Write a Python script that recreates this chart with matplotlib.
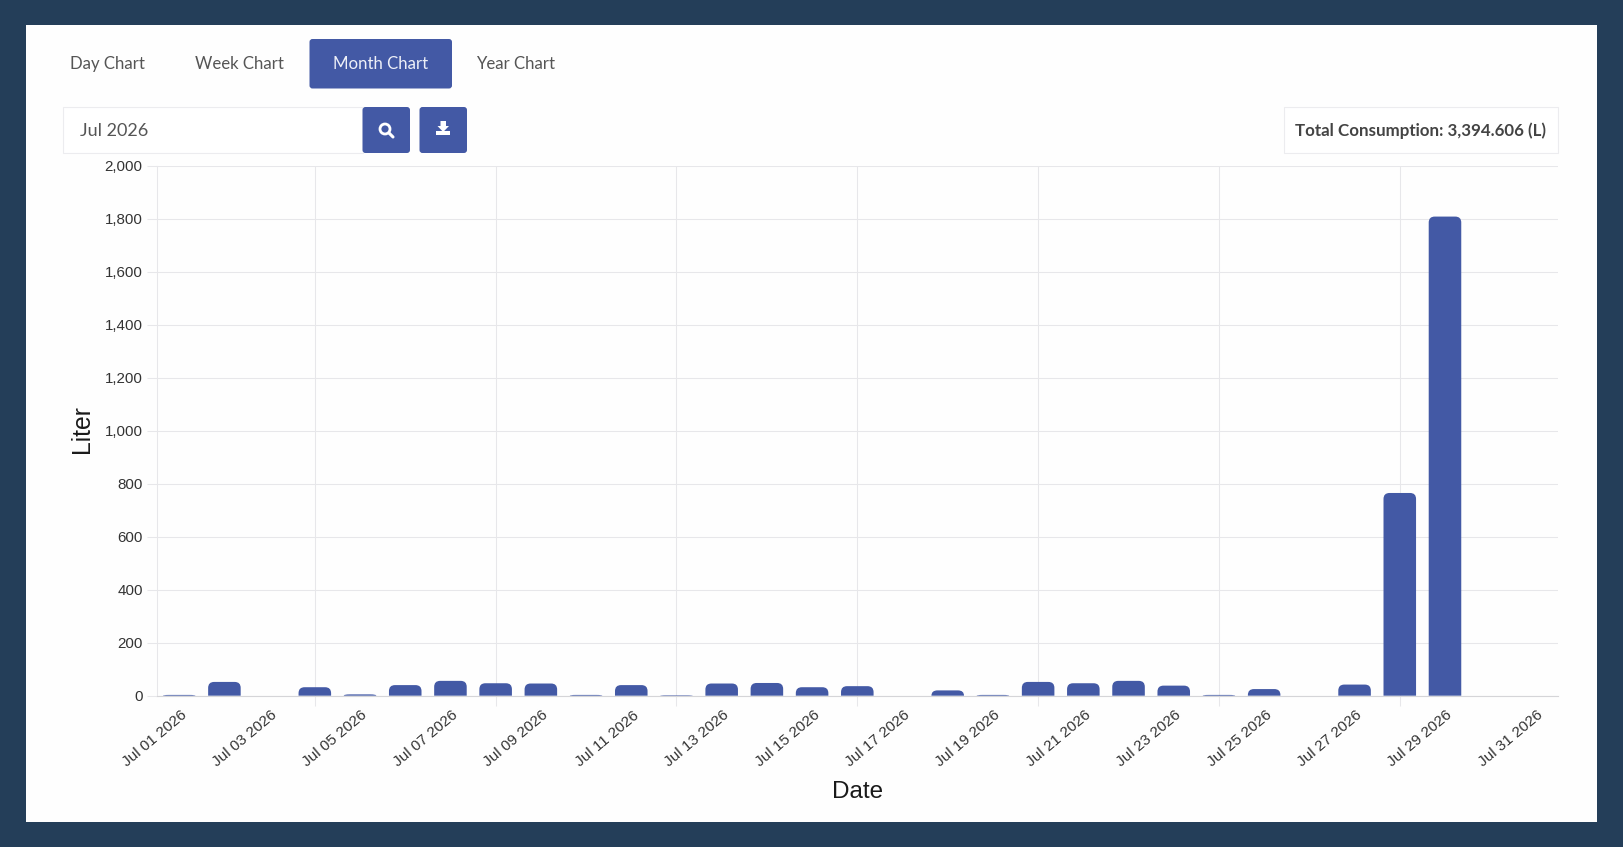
#!/usr/bin/env python3
import matplotlib
matplotlib.use("Agg")
import matplotlib.pyplot as plt
from matplotlib.patches import Rectangle, FancyBboxPatch, Circle, PathPatch, Polygon
from matplotlib.path import Path
from matplotlib.transforms import ScaledTranslation

days = [f"Jul {d:02d} 2026" for d in range(1, 32)]
liters = [3, 52, 0, 32, 5, 40, 56, 47, 46, 3, 40, 2, 46, 48, 32, 36, 0, 20, 3, 52,
          47, 56, 38, 3, 25, 0, 42, 765, 1808, 0, 0]
y_ticks = list(range(0, 2001, 200))
tabs = ["Day Chart", "Week Chart", "Month Chart", "Year Chart"]
tab_centers = [107.5, 239.5, 380.5, 516]

W, H = 1624, 847
BG = "#243e59"
BLUE = "#4359a5"
GRID = "#e7e7ea"
UI_FONT = ["Lato", "DejaVu Sans"]
CHART_FONT = ["Liberation Sans", "DejaVu Sans"]


def rounded_bar(ax, x, height, width, radius_px, px_x, px_y):
    # only the top corners are rounded, radius is clamped on the short bars
    rx = radius_px / px_x
    ry = min(radius_px / px_y, height)
    l, r = x - width / 2, x + width / 2
    verts = [(l, 0), (l, height - ry), (l, height), (l + rx, height),
             (r - rx, height), (r, height), (r, height - ry), (r, 0), (l, 0)]
    codes = [Path.MOVETO, Path.LINETO, Path.CURVE3, Path.CURVE3,
             Path.LINETO, Path.CURVE3, Path.CURVE3, Path.LINETO, Path.CLOSEPOLY]
    ax.add_patch(PathPatch(Path(verts, codes), facecolor=BLUE, edgecolor="none", zorder=3))


def button(ui, x0, y0, x1, y1, color=BLUE, edge="none", r=3):
    ui.add_patch(FancyBboxPatch((x0 + r, y0 + r), x1 - x0 - 2 * r, y1 - y0 - 2 * r,
                                boxstyle=f"round,pad={r},rounding_size={r}",
                                facecolor=color, edgecolor=edge, linewidth=1))


fig = plt.figure(figsize=(W / 100, H / 100), dpi=100, facecolor=BG)

# page furniture, drawn in pixel coordinates
ui = fig.add_axes([0, 0, 1, 1], zorder=0)
ui.set_xlim(0, W)
ui.set_ylim(H, 0)
ui.axis("off")
ui.add_patch(Rectangle((26, 25), 1571, 797, facecolor="#fefefe", edgecolor="none"))

button(ui, 309.5, 39, 452, 88.5)
for name, cx in zip(tabs, tab_centers):
    active = name == "Month Chart"
    ui.text(cx, 64, name, family=UI_FONT, fontsize=12.1, ha="center", va="center",
            color="#eef0f8" if active else "#555555")

ui.add_patch(Rectangle((63, 107.5), 300, 46, facecolor="white", edgecolor="#ececef", linewidth=0.8))
ui.text(80, 131, "Jul 2026", family=UI_FONT, fontsize=13, ha="left", va="center", color="#555555")
button(ui, 362.5, 107, 410, 153)
button(ui, 419.5, 107, 467, 153)

# search icon
ui.add_patch(Circle((385, 129), 5, facecolor="none", edgecolor="white", linewidth=2.0))
ui.plot([389, 393], [133, 137], color="white", linewidth=2.2, solid_capstyle="round")
# download icon
ui.add_patch(Polygon([(440.5, 121), (446, 121), (446, 126), (449, 126), (443.2, 132), (437.5, 126), (440.5, 126)],
                     facecolor="white", edgecolor="none"))
ui.add_patch(Rectangle((436, 131), 14.5, 4.5, facecolor="white", edgecolor="none"))

ui.add_patch(Rectangle((1284, 107.5), 274, 45.5, facecolor="white", edgecolor="#ececef", linewidth=0.8))
ui.text(1420.5, 130.5, "Total Consumption: 3,394.606 (L)", family=UI_FONT, fontsize=12.2,
        fontweight="bold", ha="center", va="center", color="#444444")

# chart
ax_l, ax_r, ax_t, ax_b = 156.6, 1558, 165.7, 695.7
ax = fig.add_axes([ax_l / W, 1 - ax_b / H, (ax_r - ax_l) / W, (ax_b - ax_t) / H], zorder=1)
ax.patch.set_alpha(0)
ax.set_xlim(-0.5, 30.5)
ax.set_ylim(0, 2000)

px_x = (ax_r - ax_l) / 31
px_y = (ax_b - ax_t) / 2000
for i, v in enumerate(liters):
    if v > 0:
        rounded_bar(ax, i, v, 0.72, 6, px_x, px_y)

for side in ["top", "right"]:
    ax.spines[side].set_visible(False)
ax.spines["left"].set_color(GRID)
ax.spines["left"].set_linewidth(0.75)
ax.spines["bottom"].set_color("#d5d5d8")
ax.spines["bottom"].set_zorder(4)

ax.set_yticks(y_ticks)
ax.set_yticklabels([f"{v:,}" for v in y_ticks], family=CHART_FONT, fontsize=10.9, color="#333333")
ax.tick_params(axis="y", length=7, width=0.75, color=GRID, pad=3)
ax.grid(axis="y", color=GRID, linewidth=0.75, zorder=0)

# grid lines sit on every 4th day, labels on every 2nd
ax.set_xticks(list(range(3, 31, 4)))
ax.set_xticklabels([])
ax.tick_params(axis="x", which="major", length=7.5, width=0.75, color=GRID)
ax.grid(axis="x", which="major", color=GRID, linewidth=0.75, zorder=0)
ax.set_xticks(list(range(0, 31, 2)), minor=True)
ax.set_xticklabels(days[::2], minor=True, family=CHART_FONT, fontsize=11, color="#333333",
                   rotation=40, ha="right", rotation_mode="anchor")
ax.tick_params(axis="x", which="minor", length=0, pad=9)
shift = ScaledTranslation(1 / 100, 0, fig.dpi_scale_trans)
for lab in ax.get_xticklabels(minor=True):
    lab.set_transform(lab.get_transform() + shift)

ax.set_axisbelow(True)
ax.set_xlabel("Date", family=CHART_FONT, fontsize=17.5, color="#1a1a1a", labelpad=0)
ax.xaxis.set_label_coords(0.5003, -0.1615)
ax.set_ylabel("Liter", family=CHART_FONT, fontsize=17.8, color="#1a1a1a")
ax.yaxis.set_label_coords(-0.0445, 0.503)

fig.savefig("out.png", dpi=100, facecolor=BG)
